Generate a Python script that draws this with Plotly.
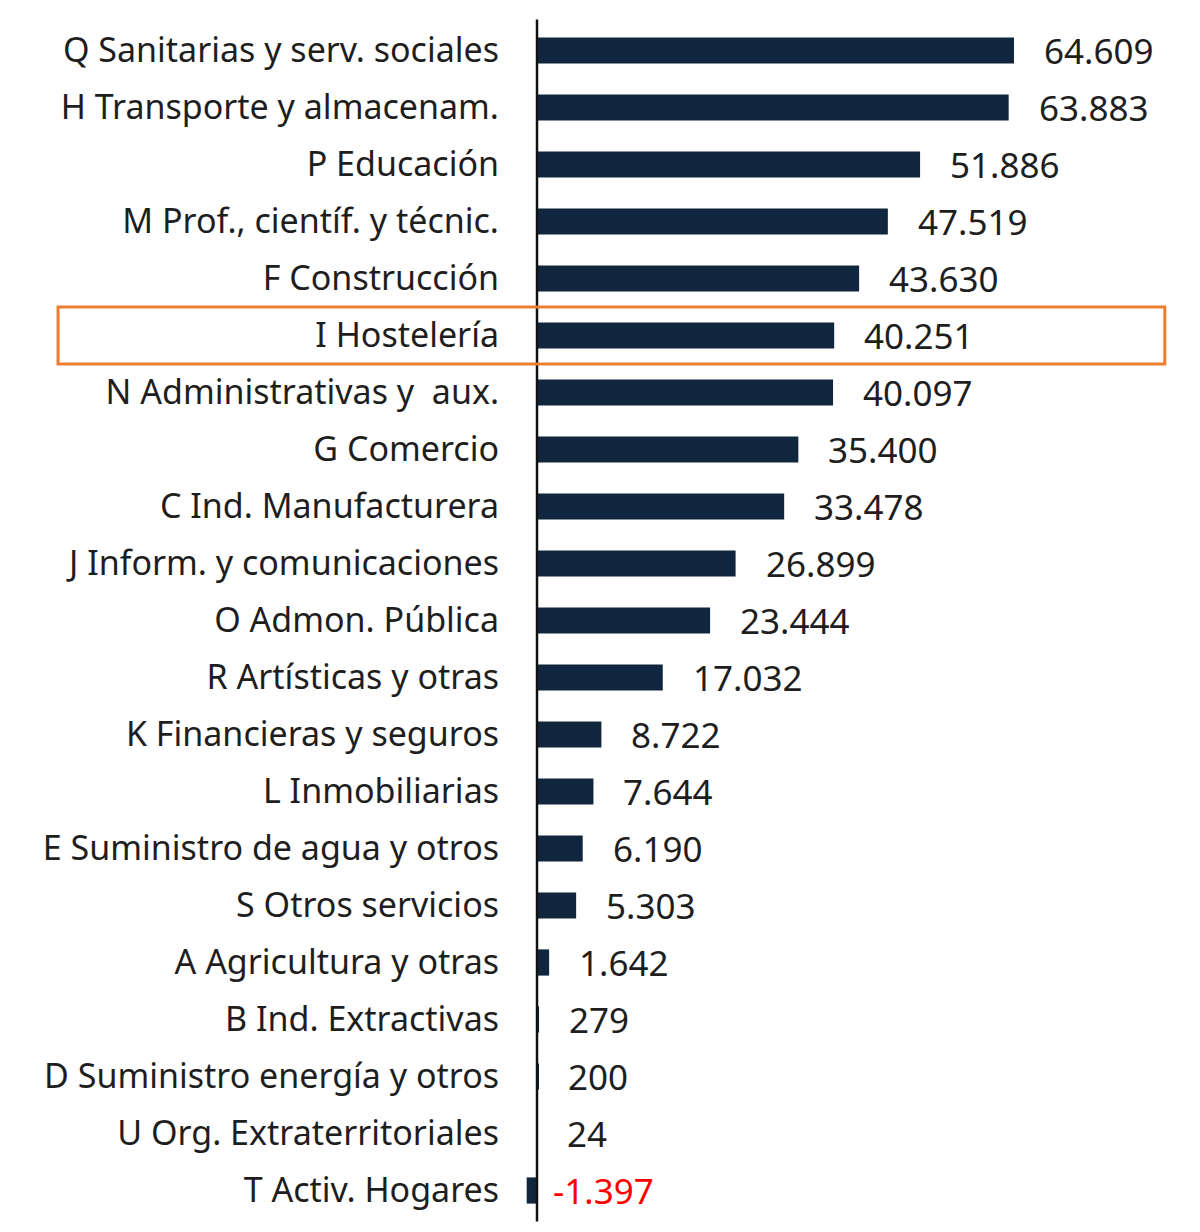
import plotly.graph_objects as go

categories = [
    "Q Sanitarias y serv. sociales",
    "H Transporte y almacenam.",
    "P Educación",
    "M Prof., científ. y técnic.",
    "F Construcción",
    "I Hostelería",
    "N Administrativas y  aux.",
    "G Comercio",
    "C Ind. Manufacturera",
    "J Inform. y comunicaciones",
    "O Admon. Pública",
    "R Artísticas y otras",
    "K Financieras y seguros",
    "L Inmobiliarias",
    "E Suministro de agua y otros",
    "S Otros servicios",
    "A Agricultura y otras",
    "B Ind. Extractivas",
    "D Suministro energía y otros",
    "U Org. Extraterritoriales",
    "T Activ. Hogares",
]
values = [64609, 63883, 51886, 47519, 43630, 40251, 40097, 35400, 33478, 26899,
          23444, 17032, 8722, 7644, 6190, 5303, 1642, 279, 200, 24, -1397]
value_labels = ["64.609", "63.883", "51.886", "47.519", "43.630", "40.251", "40.097",
                "35.400", "33.478", "26.899", "23.444", "17.032", "8.722", "7.644",
                "6.190", "5.303", "1.642", "279", "200", "24", "-1.397"]
highlight = "I Hostelería"

BAR = "#10263f"
FONT = "Noto Sans"

fig = go.Figure(go.Bar(
    x=values, y=categories, orientation="h",
    marker=dict(color=BAR, line=dict(width=0)),
    hoverinfo="skip",
))

for c, v, t in zip(categories, values, value_labels):
    fig.add_annotation(
        x=max(v, 0), y=c, xref="x", yref="y", text=t, showarrow=False,
        xanchor="left", yanchor="middle", xshift=28 if v >= 0 else 14,
        font=dict(family=FONT, size=35, color="#FF0000" if v < 0 else "#1e1e1e"),
    )

# zero axis line
fig.add_shape(type="line", xref="x", yref="paper", x0=0, x1=0, y0=-0.002, y1=1.002,
              line=dict(color="#111111", width=2.5), layer="above")

# highlight box
hi = categories.index(highlight)
fig.add_shape(type="rect", xref="paper", yref="y", x0=-0.655, x1=0.949,
              y0=hi - 0.5, y1=hi + 0.5, line=dict(color="#ED7D31", width=3),
              fillcolor="rgba(0,0,0,0)", layer="above")

# page body has an 8px margin: compensate so the plot lands at the reference position
fig.update_layout(
    width=1192, height=1224,
    margin=dict(l=502, r=0, t=14, b=13),
    plot_bgcolor="white", paper_bgcolor="white",
    bargap=0.54, showlegend=False,
    font=dict(family=FONT, size=34, color="#1e1e1e"),
    xaxis=dict(range=[-3657, 89800], visible=False, showgrid=False, zeroline=False),
    yaxis=dict(categoryorder="array", categoryarray=categories, autorange="reversed",
               showgrid=False, zeroline=False, showline=False, ticks="",
               ticklabelstandoff=10,
               tickfont=dict(family=FONT, size=34, color="#1e1e1e")),
)

fig.write_html("out.html")
